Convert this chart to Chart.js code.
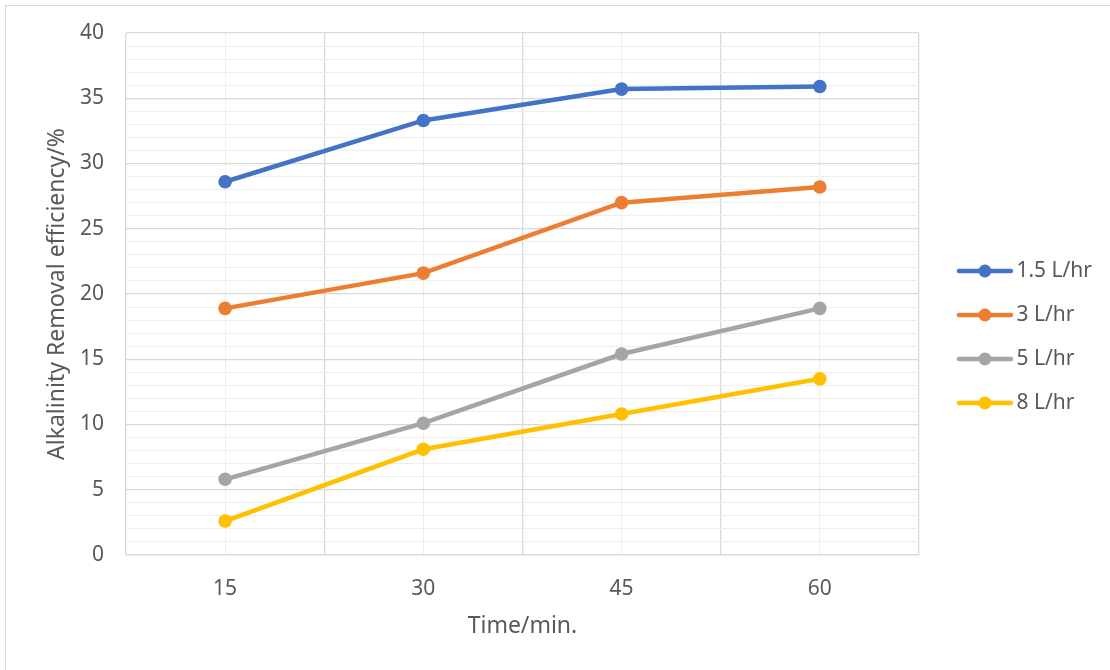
<!DOCTYPE html>
<html>
<head>
<meta charset="utf-8">
<script src="https://cdn.jsdelivr.net/npm/chart.js@4.4.1/dist/chart.umd.min.js"></script>
<style>
  html, body { margin: 0; padding: 0; background: #fff; }
  #wrap {
    position: absolute; left: 5px; top: 5px;
    width: 1105px; height: 665px;
    border-top: 1px solid #d9d9d9; border-left: 1px solid #d9d9d9;
  }
  #chart { display: block; }
</style>
</head>
<body>
<div id="wrap"><canvas id="chart" width="1104" height="664"></canvas></div>
<script>
// --- Data ---
const times = ["15", "30", "45", "60"];
const flow15 = [28.6, 33.3, 35.7, 35.9];
const flow3 = [18.9, 21.6, 27.0, 28.2];
const flow5 = [5.8, 10.1, 15.4, 18.9];
const flow8 = [2.6, 8.1, 10.8, 13.5];
const seriesNames = ["1.5 L/hr", "3 L/hr", "5 L/hr", "8 L/hr"];
const seriesColors = ["#4472c4", "#ed7d31", "#a5a5a5", "#ffc000"];

const FONT = "'Noto Sans', 'DejaVu Sans', sans-serif";
const TEXT = "#595959";
const FS = 21;
const TITLE_FS = 23;

// --- Legend marker: line with a dot ---
function legendMarker(color) {
  const c = document.createElement("canvas");
  c.width = 86; c.height = 16;
  const g = c.getContext("2d");
  g.strokeStyle = color;
  g.lineWidth = 4.5;
  g.lineCap = "round";
  g.beginPath();
  g.moveTo(28, 8); g.lineTo(80, 8);
  g.stroke();
  g.fillStyle = color;
  g.beginPath();
  g.arc(54, 8, 6.5, 0, Math.PI * 2);
  g.fill();
  return c;
}
const markers = seriesColors.map(legendMarker);

const allData = [flow15, flow3, flow5, flow8];
const datasets = allData.map((d, i) => ({
  label: seriesNames[i],
  data: d,
  borderColor: seriesColors[i],
  backgroundColor: seriesColors[i],
  borderWidth: 4.5,
  pointRadius: 6.8,
  pointHoverRadius: 6.8,
  pointBorderWidth: 0,
  tension: 0
}));

new Chart(document.getElementById("chart"), {
  type: "line",
  data: { labels: times, datasets },
  options: {
    responsive: false,
    animation: false,
    layout: { padding: { left: 38, top: 0, right: 8, bottom: 2 } },
    plugins: {
      tooltip: { enabled: false },
      legend: {
        position: "right",
        labels: {
          color: TEXT,
          font: { family: FONT, size: FS },
          usePointStyle: true,
          pointStyleWidth: 64,
          padding: 23,
          generateLabels(chart) {
            return chart.data.datasets.map((ds, i) => ({
              text: ds.label,
              pointStyle: markers[i],
              fillStyle: ds.borderColor,
              strokeStyle: ds.borderColor,
              lineWidth: 0,
              fontColor: TEXT,
              hidden: false,
              datasetIndex: i
            }));
          }
        }
      }
    },
    scales: {
      x: {
        offset: true,
        grid: { offset: true, color: "#d9d9d9", lineWidth: 1.3, drawTicks: false },
        border: { color: "#d9d9d9", width: 1.3 },
        ticks: { color: TEXT, font: { family: FONT, size: FS }, padding: 21 },
        title: {
          display: true, text: "Time/min.", color: TEXT,
          font: { family: FONT, size: TITLE_FS }, padding: { top: 0, bottom: 28 }
        },
        afterFit: s => { s.height = 113; }
      },
      x2: {
        type: "category",
        position: "top",
        offset: true,
        grid: { offset: false, color: "#eeeeee", lineWidth: 1, drawTicks: false },
        border: { display: false },
        ticks: { display: false },
        afterFit: s => { s.height = 27; }
      },
      y: {
        min: 0,
        max: 40,
        grid: {
          drawTicks: false,
          color: c => (c.tick && c.tick.value % 5 === 0) ? "#d9d9d9" : "#eeeeee",
          lineWidth: c => (c.tick && c.tick.value % 5 === 0) ? 1.3 : 1
        },
        border: { display: false },
        ticks: {
          stepSize: 1,
          autoSkip: false,
          padding: 22,
          color: TEXT,
          font: { family: FONT, size: FS },
          callback: v => (v % 5 === 0 ? v : "")
        },
        title: {
          display: true, text: "Alkalinity Removal efficiency/%", color: TEXT,
          font: { family: FONT, size: TITLE_FS }, padding: { top: 0, bottom: 0 }
        },
        afterFit: s => { s.width = 82; s.paddingTop = 13; s.paddingBottom = 13; }
      }
    }
  }
});
</script>
</body>
</html>
